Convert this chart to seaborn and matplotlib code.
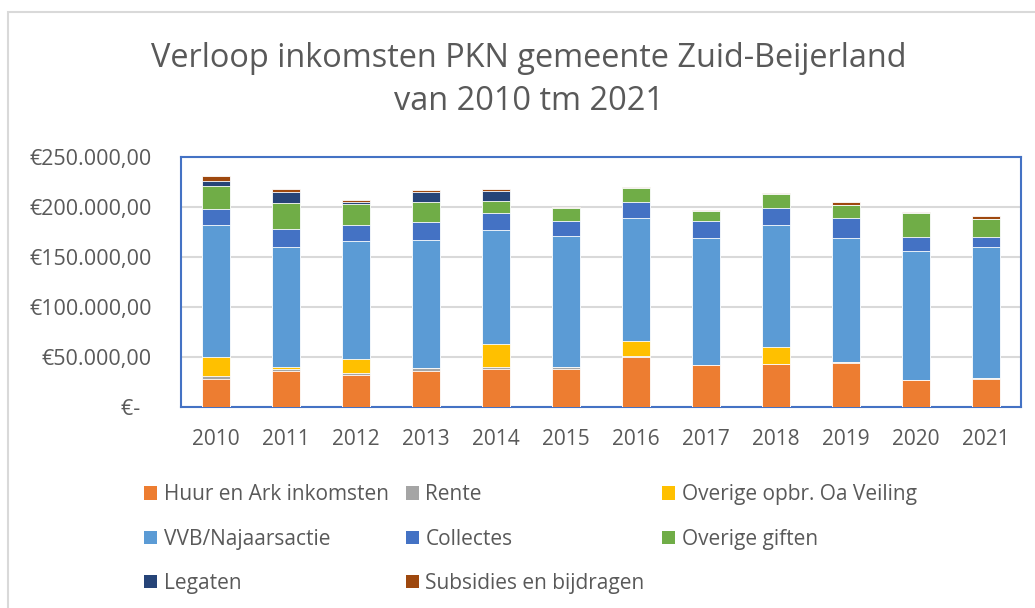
import numpy as np
import pandas as pd
import matplotlib
matplotlib.use("Agg")
import matplotlib.pyplot as plt
from matplotlib.patches import Patch, Rectangle
from matplotlib.ticker import FuncFormatter
import seaborn as sns

# -----------------
# data (in euro)
# -----------------
jaren = ['2010', '2011', '2012', '2013', '2014', '2015',
         '2016', '2017', '2018', '2019', '2020', '2021']

huur_ark = [27700, 35700, 31700, 36000, 38300, 38300, 50300, 41700, 42700, 44300, 26700, 28300]
rente = [3600, 2000, 2600, 3000, 2000, 2000, 1000, 700, 700, 700, 700, 700]
overige_opbr = [18700, 2000, 13700, 500, 22400, 0, 15000, 0, 16600, 0, 0, 0]
vvb_najaar = [132300, 120600, 117700, 128000, 114300, 130700, 122700, 127000, 122000, 124300, 129000, 130700]
collectes = [15700, 17400, 16600, 17700, 16700, 14700, 15700, 16400, 17300, 19400, 13400, 10000]
overige_giften = [23300, 26300, 20400, 19600, 12300, 13600, 14600, 10600, 14000, 13300, 24600, 18300]
legaten = [5000, 11300, 2600, 10000, 9700, 0, 0, 0, 0, 0, 0, 0]
subsidies = [4400, 2400, 1700, 2400, 2000, 600, 700, 700, 700, 3300, 700, 3000]

reeksen = ['Huur en Ark inkomsten', 'Rente', 'Overige opbr. Oa Veiling',
           'VVB/Najaarsactie', 'Collectes', 'Overige giften',
           'Legaten', 'Subsidies en bijdragen']
kleuren = ['#ED7D31', '#A5A5A5', '#FFC000', '#5B9BD5',
           '#4472C4', '#70AD47', '#264478', '#9E480E']

df = pd.DataFrame({
    'jaar': jaren,
    reeksen[0]: huur_ark,
    reeksen[1]: rente,
    reeksen[2]: overige_opbr,
    reeksen[3]: vvb_najaar,
    reeksen[4]: collectes,
    reeksen[5]: overige_giften,
    reeksen[6]: legaten,
    reeksen[7]: subsidies,
})

# cumulatief, zodat we van boven naar beneden over elkaar heen tekenen
cum = df[reeksen].cumsum(axis=1)
cum['jaar'] = df['jaar']

# -----------------
# figuur
# -----------------
sns.set_style('white')
plt.rcParams['font.family'] = ['Open Sans', 'DejaVu Sans']
tekstkleur = '#595959'

fig = plt.figure(figsize=(10.35, 6.08), dpi=100)
ax = fig.add_axes([181 / 1035, 1 - 407 / 608, 840 / 1035, 250 / 608])

for reeks, kleur in reversed(list(zip(reeksen, kleuren))):
    sns.barplot(data=cum, x='jaar', y=reeks, color=kleur, saturation=1,
                width=0.394, edgecolor='white', linewidth=0.6, ax=ax, zorder=3)

ax.set_ylim(0, 250000)
ax.set_xlim(-0.5, 11.5)
ax.set_yticks(np.arange(0, 250001, 50000))
ax.yaxis.set_major_formatter(FuncFormatter(
    lambda v, p: '€-  ' if v == 0 else '€' + f'{v:,.2f}'.replace(',', 'X').replace('.', ',').replace('X', '.')))
ax.grid(axis='y', color='#D9D9D9', linewidth=1.5, zorder=0)
ax.set_axisbelow(True)
ax.set_xlabel('')
ax.set_ylabel('')
for sp in ax.spines.values():
    sp.set_visible(True)
    sp.set_color('#4472C4')
    sp.set_linewidth(1.5)
ax.tick_params(axis='y', length=0, pad=21, labelsize=15.5, labelcolor=tekstkleur)
ax.tick_params(axis='x', length=0, pad=16, labelsize=15, labelcolor=tekstkleur)

# titel
fig.text(529 / 1035, 1 - 80 / 608, 'Verloop inkomsten PKN gemeente Zuid-Beijerland\nvan 2010 tm 2021',
         ha='center', va='center', fontsize=23.4, color=tekstkleur, linespacing=1.42)

# legenda (rij voor rij, dus kolomvolgorde omzetten)
volgorde = [0, 3, 6, 1, 4, 7, 2, 5]
handles = [Patch(facecolor=kleuren[i], edgecolor='none', label=reeksen[i]) for i in volgorde]
fig.legend(handles=handles, ncol=3, loc='upper left',
           bbox_to_anchor=(136 / 1035, 1 - 476 / 608), frameon=False,
           fontsize=15, labelcolor=tekstkleur, handlelength=0.62, handleheight=0.62,
           handletextpad=0.3, columnspacing=0.85, labelspacing=1.12, borderaxespad=0)

# lichte rand om het grafiekgebied
fig.add_artist(Rectangle((8 / 1035, -0.1), 2, 1.1 - 12 / 608, transform=fig.transFigure,
                         fill=False, edgecolor='#D9D9D9', linewidth=1.5))

fig.savefig('out.png', dpi=100)
